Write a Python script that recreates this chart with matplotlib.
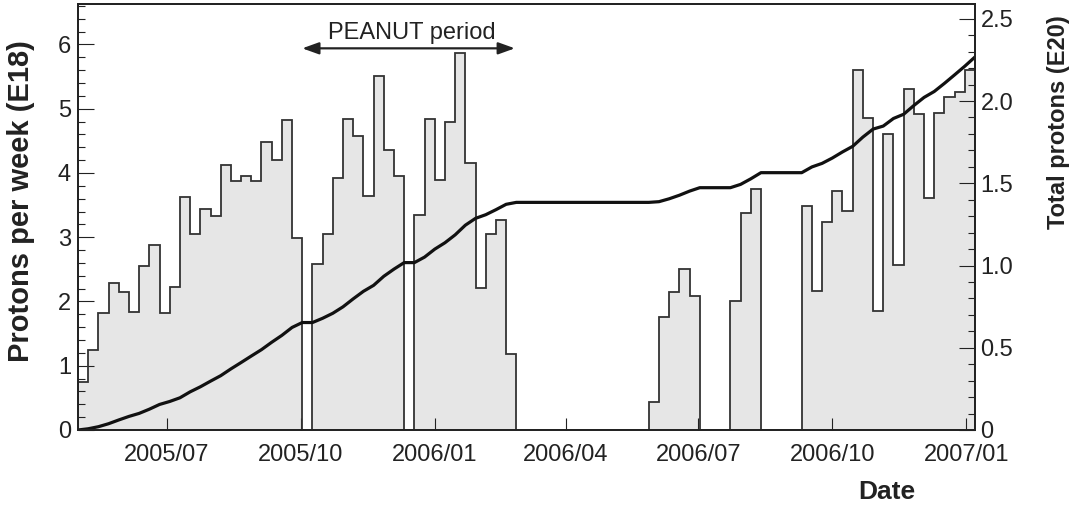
import numpy as np
import pandas as pd
import matplotlib
matplotlib.use("Agg")
import matplotlib.pyplot as plt
import matplotlib.dates as mdates
from matplotlib.ticker import MultipleLocator, FuncFormatter

plt.rcParams['font.family'] = ['Liberation Sans', 'DejaVu Sans']

# weekly bins, first week starts on Sunday 2005-05-01
first_week = "2005-05-01"
# protons on target per week (E18)
protons_per_week = [
    0.75, 1.25, 1.82, 2.29, 2.15, 1.84, 2.55, 2.88, 1.82, 2.23, 3.62,
    3.05, 3.44, 3.33, 4.13, 3.87, 3.95, 3.88, 4.48, 4.20, 4.82, 2.99,
    0.00,
    2.59, 3.05, 3.92, 4.84, 4.57, 3.64, 5.51, 4.36, 3.95,
    0.00,
    3.35, 4.84, 3.89, 4.80, 5.87, 4.16, 2.21, 3.05, 3.27, 1.18,
    0.00, 0.00, 0.00, 0.00, 0.00, 0.00, 0.00, 0.00, 0.00, 0.00, 0.00, 0.00, 0.00,
    0.43, 1.76, 2.15, 2.51, 2.08,
    0.00, 0.00, 0.00,
    2.00, 3.38, 3.75,
    0.00, 0.00, 0.00, 0.00,
    3.49, 2.17, 3.23, 3.72, 3.41, 5.61, 4.86, 1.85, 4.61, 2.57, 5.31,
    4.92, 3.61, 4.93, 5.19, 5.26, 5.61,
]

tick_dates = ["2005-07-01", "2005-10-01", "2006-01-01", "2006-04-01",
              "2006-07-01", "2006-10-01", "2007-01-01"]
tick_labels = ["2005/07", "2005/10", "2006/01", "2006/04",
               "2006/07", "2006/10", "2007/01"]

peanut_start = "2005-10-02"
peanut_end = "2006-02-25"

edges = mdates.date2num(pd.date_range(first_week, periods=len(protons_per_week) + 1, freq="7D"))
# running total, E18 -> E20
total = np.concatenate([[0.0], np.cumsum(protons_per_week)]) / 100.0

ink = "#222222"

fig = plt.figure(figsize=(10.77, 5.08), dpi=100)
ax = fig.add_axes([78 / 1077, 78 / 508, 897 / 1077, 426 / 508])
ax2 = ax.twinx()

ax.stairs(protons_per_week, edges, fill=True, color="#e6e6e6", zorder=1)
ax.stairs(protons_per_week, edges, color="#333333", lw=1.3, zorder=2)
ax2.plot(edges, total, color="#111111", lw=2.3, solid_joinstyle="round")

ax.set_xlim(edges[0], edges[-1])
ax.set_ylim(0, 6.63)
ax2.set_ylim(0, 2.59)

ax.set_xticks(mdates.date2num(pd.to_datetime(tick_dates)))
ax.set_xticklabels(tick_labels)
ax.yaxis.set_major_locator(MultipleLocator(1))
ax.yaxis.set_minor_locator(MultipleLocator(0.2))
ax2.yaxis.set_major_locator(MultipleLocator(0.5))
ax2.yaxis.set_minor_locator(MultipleLocator(0.1))
ax2.yaxis.set_major_formatter(FuncFormatter(lambda v, _: "0" if v == 0 else f"{v:.1f}"))

ax.tick_params(axis="x", direction="in", length=8.4, width=0.8, pad=10,
               labelsize=17, colors=ink)
ax.tick_params(axis="y", which="major", direction="in", length=11.3, width=0.8,
               pad=5, labelsize=17, colors=ink)
ax.tick_params(axis="y", which="minor", direction="in", length=5.3, width=0.8, colors=ink)
ax2.tick_params(axis="y", which="major", direction="in", length=11.3, width=0.8,
                pad=4, labelsize=17, colors=ink)
ax2.tick_params(axis="y", which="minor", direction="in", length=5.3, width=0.8, colors=ink)

for a in (ax, ax2):
    for s in a.spines.values():
        s.set_color(ink)
        s.set_linewidth(1.3)

ax.set_ylabel("Protons per week (E18)", fontsize=21, fontweight="bold", color=ink)
ax.yaxis.set_label_coords(-0.048, 0.537)
ax2.set_ylabel("Total protons (E20)", fontsize=17, fontweight="bold", color=ink, loc="top")
ax2.yaxis.set_label_coords(1.080, 0.974)
ax.set_xlabel("Date", fontsize=19, fontweight="bold", color=ink, loc="right")
ax.xaxis.set_label_coords(0.933, -0.118)

# PEANUT run marker
p0 = mdates.date2num(pd.Timestamp(peanut_start))
p1 = mdates.date2num(pd.Timestamp(peanut_end))
ax.annotate("", xy=(p1, 5.94), xytext=(p0, 5.94),
            arrowprops=dict(arrowstyle="<|-|>,head_length=0.5,head_width=0.18",
                            mutation_scale=20, lw=1.6, color=ink,
                            shrinkA=0, shrinkB=0))
ax.text((p0 + p1) / 2 + 2, 6.09, "PEANUT period", fontsize=17, color=ink,
        ha="center", va="baseline")

fig.savefig("out.png", dpi=100)
